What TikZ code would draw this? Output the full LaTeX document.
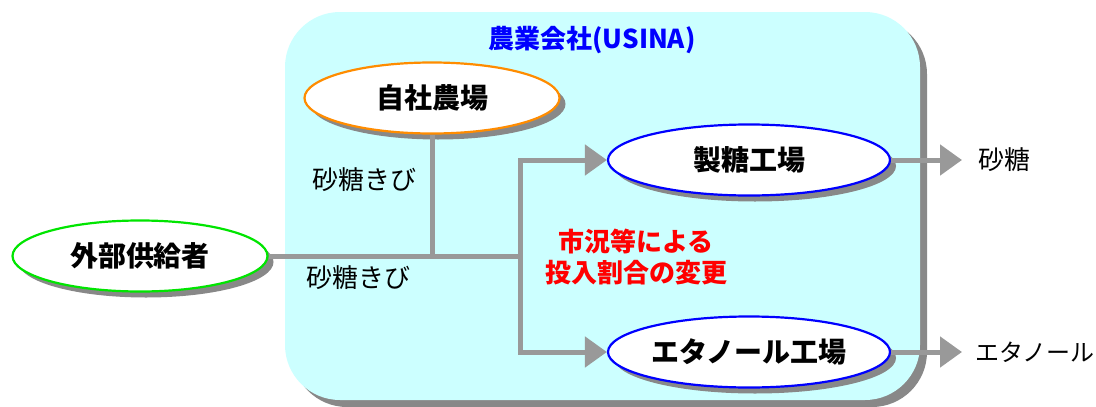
\documentclass[tikz,border=0pt]{standalone}
\usepackage{fontspec}
\setmainfont{Noto Sans CJK JP}
\usetikzlibrary{arrows.meta,shapes.geometric}
\definecolor{boxfill}{HTML}{CCFFFF}
\definecolor{linegray}{HTML}{999999}
\definecolor{shadowgray}{HTML}{888888}
\tikzset{
  ell/.style={ellipse, fill=white, line width=2.2pt, inner sep=0pt, minimum height=71pt, font=\fontsize{28}{32}\selectfont\bfseries},
  shad/.style={ellipse, fill=shadowgray, minimum height=71pt},
  flow/.style={draw=linegray, line width=5pt},
  arr/.style={flow, -{Triangle[length=22pt,width=30pt]}},
  lbl/.style={font=\fontsize{26}{30}\selectfont, text=black},
}
\begin{document}
\begin{tikzpicture}[x=1pt,y=-1pt]
\useasboundingbox (0,0) rectangle (1096,407);
% big company box with shadow
\fill[shadowgray, rounded corners=55pt] (292,19) rectangle (927,407);
\fill[boxfill, rounded corners=55pt] (285,12) rectangle (920,400);
\node[font=\fontsize{26}{30}\selectfont\bfseries, text=blue] (title) at (592,40) {農業会社(USINA)};
% shadows
\node[shad, minimum width=255pt] at (438,104) {};
\node[shad, minimum width=255pt] at (146,262) {};
\node[shad, minimum width=282pt] at (755,166) {};
\node[shad, minimum width=282pt] at (755,358) {};
\coordinate (j1) at (432,256);
\coordinate (j2) at (520,256);
\coordinate (top) at (520,160);
\coordinate (bot) at (520,352);
\node[ell, draw=orange!90!yellow, minimum width=255pt] (farm) at (432,98) {自社農場};
\node[ell, draw=green!90!black, minimum width=255pt] (ext) at (140,256) {外部供給者};
\node[ell, draw=blue, minimum width=282pt] (sugar) at (749,160) {製糖工場};
\node[ell, draw=blue, minimum width=282pt] (eth) at (749,352) {エタノール工場};
\draw[flow] (farm.south) -- (j1);
\draw[flow] (ext.east) -- (j2);
\draw[flow, line cap=rect] (top) -- (bot);
\draw[arr] (top) -- (sugar.west);
\draw[arr] (bot) -- (eth.west);
\coordinate (sugarout) at (962,160);
\coordinate (ethout) at (962,352);
\draw[arr] (sugar.east) -- (sugarout);
\draw[arr] (eth.east) -- (ethout);
\node[lbl, anchor=west] (sugarlbl) at (975,160) {砂糖};
\node[lbl, font=\fontsize{24}{28}\selectfont, anchor=west] (ethlbl) at (972,352) {エタノール};
\node[lbl] (cane1) at (364,180) {砂糖きび};
\node[lbl] (cane2) at (358,278) {砂糖きび};
\node[text=red, font=\fontsize{26}{31}\selectfont\bfseries, align=center] (note) at (636,257) {市況等による\\投入割合の変更};
\end{tikzpicture}
\end{document}
